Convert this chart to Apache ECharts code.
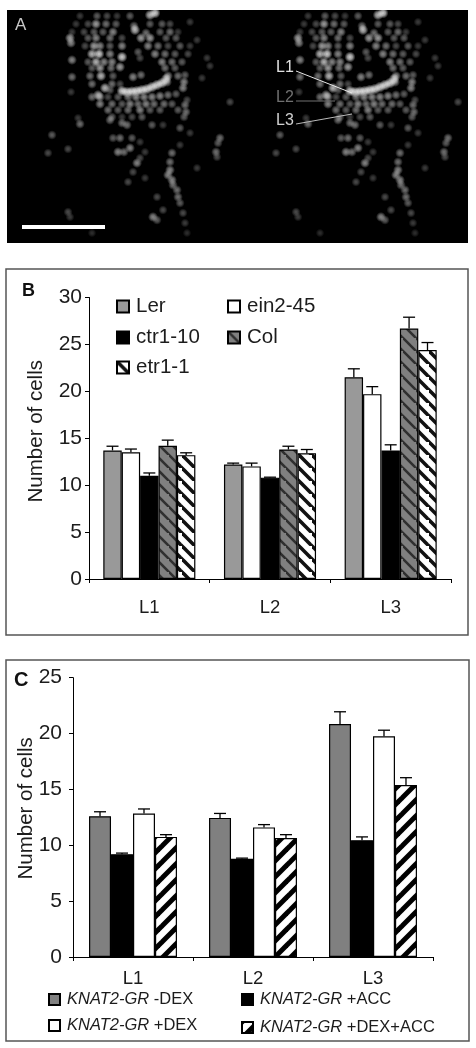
<!DOCTYPE html>
<html><head><meta charset="utf-8">
<script src="https://cdn.jsdelivr.net/npm/echarts@6/dist/echarts.min.js"></script>
<style>html,body{margin:0;padding:0;background:#fff}#c{width:476px;height:1048px}</style>
</head><body><div id="c"></div>
<script>
// ---- Panel B data
const groupsB = ['L1','L2','L3'];
const lerB    = [13.7,12.2,21.5];
const ein2B   = [13.5,12.0,19.7];
const ctr1B   = [11.0,10.8,13.7];
const colB    = [14.2,13.8,26.7];
const etr1B   = [13.2,13.4,24.4];
const lerTopB  = [14.15,12.35,22.4];
const ein2TopB = [13.85,12.35,20.5];
const ctr1TopB = [11.3,10.85,14.3];
const colTopB  = [14.8,14.15,27.9];
const etr1TopB = [13.45,13.8,25.2];
// ---- Panel C data
const groupsC = ['L1','L2','L3'];
const minusDexC = [12.6,12.45,20.85];
const accC      = [9.2,8.8,10.45];
const dexC      = [12.85,11.6,19.75];
const dexAccC   = [10.75,10.65,15.4];
const minusDexTopC = [13.0,12.85,21.95];
const accTopC      = [9.3,8.85,10.75];
const dexTopC      = [13.25,11.85,20.3];
const dexAccTopC   = [10.95,10.95,16.05];
const nuclei = [
[80,16,.3],[97,16,.5],[107,16,.4],[117,16,.3],[130,16,.5],[150,15,.9],[155,13,1],
[76,24,.3],[88,24,.4],[96,24,.8],[106,24,.6],[116,24,.5],[134,26,.6],[150,24,.5],[162,24,.5],[170,24,.4],[190,22,.3],
[72,32,.3],[84,32,.4],[94,32,.5],[103,32,.5],[113,32,.7],[135,30,.9],[146,33,.6],[160,32,.5],[170,32,.6],[178,32,.3],
[70,38,.8],[88,38,.5],[96,38,.7],[110,38,.6],[122,38,.4],[141,38,.8],[150,38,.8],[166,38,.5],[176,38,.5],
[71,43,.7],[85,46,.4],[94,46,.8],[100,46,.7],[110,46,.5],[122,46,.7],[148,46,.7],[158,46,.6],[168,46,.4],[180,46,.5],[190,46,.3],[197,40,.3],
[92,54,.9],[99,54,1],[110,54,.7],[138,52,.5],[122,57,1],[140,58,.4],[155,54,.7],[165,54,.6],[175,54,.5],[188,54,.4],
[72,60,.7],[88,62,.5],[96,62,.9],[104,62,.7],[112,62,.7],[162,62,.7],[172,62,.6],[182,62,.5],[207,58,.3],
[92,68,.5],[100,68,.8],[111,68,.6],[120,67,.8],[165,68,.6],[175,68,.5],[210,66,.3],
[72,77,.6],[90,76,.6],[101,76,.9],[113,76,.5],[133,77,.7],[141,75,.6],[168,76,.7],[178,76,.6],[185,75,.5],[202,78,.3],
[92,84,.6],[112,84,.6],[120,84,.4],[184,82,.7],[167,82,.7],
[71,92,.3],[105,88,.9],[98,95,.8],[110,90,.5],
[122,91,1],[127,92,1],[132,91.5,1],[137,91,1],[142,90,1],[147,89,1],[152,87,1],[157,85,1],[162,83,1],[166,79,.9],
[92,97,.6],[100,97,.7],[108,97,.4],[118,97,.5],[128,97,.6],[136,97,.7],[144,97,.7],[152,97,.7],[160,96,.7],[168,95,.6],[176,94,.5],[183,88,.7],
[100,104,.7],[112,104,.6],[122,104,.5],[130,104,.7],[138,104,.6],[146,104,.7],[154,104,.6],[164,104,.6],[172,104,.5],[185,105,.6],[187,100,.4],[230,102,.4],
[108,110,.6],[118,110,.5],[128,110,.6],[140,110,.7],[150,110,.5],[160,110,.5],[178,110,.5],[186,112,.6],
[78,118,.3],[112,117,.5],[122,117,.3],[132,117,.4],[142,117,.5],[184,117,.5],
[80,124,.6],[110,120,.6],[122,123,.6],[127,125,.6],[152,125,.5],[163,125,.3],[180,128,.5],[190,133,.3],
[52,135,.5],[113,138,.5],[120,138,.6],[132,138,.5],[140,142,.3],[220,138,.6],[218,143,.5],[180,145,.3],
[48,153,.4],[68,149,.4],[118,152,.7],[124,152,.6],[130,148,.7],[145,152,.3],[172,153,.6],[216,152,.6],[217,157,.4],
[137,163,.7],[140,158,.4],[170,162,.6],[197,168,.3],
[170,170,.7],[168,175,.7],[172,180,.7],[173,185,.6],[177,190,.6],[178,197,.6],[180,203,.5],[183,213,.4],[185,223,.3],[187,233,.2],
[133,172,.4],[145,178,.3],[128,182,.4],[157,197,.4],[153,217,.7],[157,220,.5],[163,210,.4],[68,212,.4],[70,217,.3],[92,233,.2]
];
const secondImageShift = 228;

const hatch = (bg, fg, dir, step, lw) => {
  const cv = document.createElement('canvas'); cv.width = cv.height = step;
  const g = cv.getContext('2d');
  g.fillStyle = bg; g.fillRect(0,0,step,step);
  g.strokeStyle = fg; g.lineWidth = lw;
  const seg = (a,b,c,d) => { g.beginPath(); g.moveTo(a,b); g.lineTo(c,d); g.stroke(); };
  if (dir > 0) { seg(-step,0,2*step,3*step); seg(-2*step,0,step,3*step); seg(0,0,3*step,3*step); }
  else { seg(-step,2*step,2*step,-step); seg(0,2*step,3*step,-step); seg(-2*step,2*step,step,-step); }
  return { image: cv, repeat: 'repeat' };
};
const INK = '#1c1c1c';
const GREY_B = '#999999', GREY_C = '#808080';
const colFill = hatch('#808080','#2f2f2f',1,13,2.6);
const etrFill = hatch('#ffffff','#111111',1,13,3.6);
const dexAccFill = hatch('#ffffff','#000000',-1,16,5);

const barsOf = (gridIdx, defs, gapPct) => defs.map(d => ({
  type:'bar', name:d.name, xAxisIndex:gridIdx, yAxisIndex:gridIdx, data:d.vals,
  barGap:'0%', barCategoryGap:gapPct+'%', z:2,
  itemStyle:{color:d.fill, borderColor:'#000', borderWidth:1.2}
}));
const errorsOf = (gridIdx, defs, gapPct) => ({
  type:'custom', xAxisIndex:gridIdx, yAxisIndex:gridIdx, z:3, silent:true,
  encode:{x:0,y:2},
  data: defs.flatMap((d,s) => d.vals.map((v,c) => [c,s,v,d.tops[c]])),
  renderItem:(params,api) => {
    const cat=api.value(0), s=api.value(1);
    const band=api.size([1,0])[0], n=defs.length;
    const bw=band*(1-gapPct/100)/n;
    const base=api.coord([cat,api.value(2)]), top=api.coord([cat,api.value(3)]);
    const x=base[0]+(s-(n-1)/2)*bw;
    const st={stroke:'#000',lineWidth:1.3};
    return {type:'group',children:[
      {type:'line',shape:{x1:x,y1:base[1],x2:x,y2:top[1]},style:st},
      {type:'line',shape:{x1:x-6,y1:top[1],x2:x+6,y2:top[1]},style:st}
    ]};
  }
});

const defsB=[
 {name:'Ler',vals:lerB,tops:lerTopB,fill:GREY_B},
 {name:'ein2-45',vals:ein2B,tops:ein2TopB,fill:'#fff'},
 {name:'ctr1-10',vals:ctr1B,tops:ctr1TopB,fill:'#000'},
 {name:'Col',vals:colB,tops:colTopB,fill:colFill},
 {name:'etr1-1',vals:etr1B,tops:etr1TopB,fill:etrFill}];
const defsC=[
 {name:'-DEX',vals:minusDexC,tops:minusDexTopC,fill:GREY_C},
 {name:'+ACC',vals:accC,tops:accTopC,fill:'#000'},
 {name:'+DEX',vals:dexC,tops:dexTopC,fill:'#fff'},
 {name:'+DEX+ACC',vals:dexAccC,tops:dexAccTopC,fill:dexAccFill}];
const GAP_B=23.7, GAP_C=26.7;

const spot = (dx) => ({
  type:'scatter', xAxisIndex:0, yAxisIndex:0, silent:true, z:2,
  data:nuclei.map(n=>[n[0]+dx,n[1],n[2]]),
  symbolSize:v=>8+v[2]*3,
  itemStyle:{color:p=>{
    const b=p.value[2], l=Math.round(70+185*b);
    return new echarts.graphic.RadialGradient(.5,.5,.5,[
      {offset:0,color:`rgba(${l},${l},${l},${0.45+0.55*b})`},
      {offset:.45,color:`rgba(${l},${l},${l},${0.3+0.45*b})`},
      {offset:1,color:`rgba(${l},${l},${l},0)`}]);
  }}
});

const legB=(name,left,top)=>({
  show:true,data:[name],left,top,padding:0,itemWidth:12,itemHeight:12,itemGap:0,selectedMode:false,icon:'rect',
  textStyle:{fontFamily:'Liberation Sans',fontSize:20.5,color:INK,padding:[0,0,0,2]}
});
const legC=(name,left,top)=>({
  show:true,data:[name],left,top,padding:0,itemWidth:11,itemHeight:11,itemGap:0,selectedMode:false,icon:'rect',
  formatter:n=>`{i|KNAT2-GR} {t|${n}}`,
  textStyle:{fontFamily:'Liberation Sans',fontSize:16.5,color:INK,padding:[0,0,0,2],
    rich:{i:{fontFamily:'Liberation Sans',fontSize:16.5,fontStyle:'italic',color:INK},
          t:{fontFamily:'Liberation Sans',fontSize:16.5,color:INK}}}
});

const yAxisOf=(i,max,interval,labelMargin,nameGap,shiftUp)=>({
  type:'value',gridIndex:i,min:0,max,interval,
  name:'Number of cells',nameLocation:'middle',nameGap,nameMoveOverlap:false,
  nameTextStyle:{fontFamily:'Liberation Sans',fontSize:20.5,color:INK,padding:[0,0,0,shiftUp]},
  axisLine:{show:true,lineStyle:{color:'#000',width:1}},
  axisTick:{show:true,length:4,lineStyle:{color:'#000'}},
  axisLabel:{fontFamily:'Liberation Sans',fontSize:21,color:INK,margin:labelMargin},
  splitLine:{show:false}
});
const xAxisOf=(i,cats,fs,margin)=>({
  type:'category',gridIndex:i,data:cats,
  axisLine:{show:true,onZero:false,lineStyle:{color:'#000',width:1}},
  axisTick:{show:true,length:4,lineStyle:{color:'#000'}},
  axisLabel:{fontFamily:'Liberation Sans',fontSize:fs,color:INK,margin}
});
const T=(text,x,y,fs,fill,weight)=>({type:'text',x,y,z:20,style:{text,fill,fontSize:fs,fontWeight:weight||'normal',fontFamily:'Liberation Sans',textVerticalAlign:'middle'}});
const L=(x1,y1,x2,y2,stroke,w)=>({type:'line',z:20,shape:{x1,y1,x2,y2},style:{stroke,lineWidth:w||1}});

const chart=echarts.init(document.getElementById('c'),null,{renderer:'canvas'});
chart.setOption({
  animation:false,backgroundColor:'#fff',
  grid:[
    {left:7,width:461,top:10,height:233,show:true,backgroundColor:'#000',borderWidth:0,z:0},
    {left:89,width:362,top:297.5,height:281.5},
    {left:73,width:360,top:677.7,height:279.3}
  ],
  xAxis:[
    {type:'value',gridIndex:0,min:7,max:468,show:false},
    xAxisOf(1,groupsB,18.5,19),
    xAxisOf(2,groupsC,18.5,12)
  ],
  yAxis:[
    {type:'value',gridIndex:0,min:10,max:243,inverse:true,show:false},
    yAxisOf(1,30,5,7,42,14),
    yAxisOf(2,25,5,11,36,18)
  ],
  legend:[
    legB('Ler',116,296),legB('ein2-45',227,296),
    legB('ctr1-10',116,327),legB('Col',227,327),legB('etr1-1',116,357),
    legC('-DEX',48,991),legC('+DEX',48,1017),legC('+ACC',241,991),legC('+DEX+ACC',241,1019)
  ],
  series:[
    spot(0),spot(secondImageShift),
    ...barsOf(1,defsB,GAP_B),errorsOf(1,defsB,GAP_B),
    ...barsOf(2,defsC,GAP_C),errorsOf(2,defsC,GAP_C)
  ],
  graphic:[
    {type:'rect',z:1,shape:{x:6,y:269,width:462,height:366},style:{fill:'none',stroke:'#555',lineWidth:1.5}},
    {type:'rect',z:1,shape:{x:6,y:660,width:463,height:381},style:{fill:'none',stroke:'#555',lineWidth:1.5}},
    {type:'rect',z:20,shape:{x:22,y:225,width:83,height:4},style:{fill:'#fff'}},
    T('A',15,25,17,'#c8c8c8'),
    T('B',22,291,18,'#111','bold'),
    T('C',14,680,20,'#111','bold'),
    T('L1',276,68,16,'#e0e0e0'),T('L2',276,98,16,'#707070'),T('L3',276,121,16,'#d0d0d0'),
    L(296,71,352,93,'#e6e6e6'),L(296,101,335,101,'#707070'),L(296,124,352,114,'#bbbbbb')
  ]
});
</script></body></html>
